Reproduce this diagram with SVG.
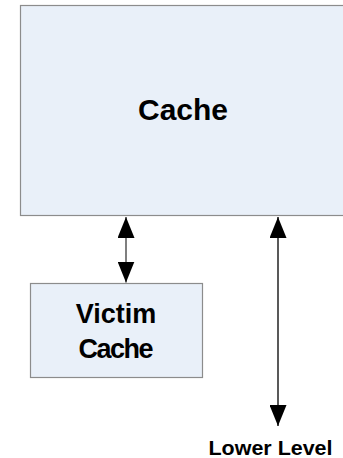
<svg xmlns="http://www.w3.org/2000/svg" width="343" height="458" viewBox="0 0 343 458">
<style>
.box{fill:#e9f0f9;stroke:#8c8c8c;stroke-width:1.2}
.lbl{font-family:"Liberation Sans",Arial,sans-serif;font-weight:bold;fill:#000}
.conn{stroke-width:1.5;fill:none}
</style>
<defs>
<marker id="ah" viewBox="0 0 21 17" refX="21" refY="8.5" markerWidth="21" markerHeight="17" markerUnits="userSpaceOnUse" orient="auto-start-reverse">
<path d="M0,0 L21,8.5 L0,17 Z" fill="#000"/>
</marker>
</defs>
<rect x="0" y="0" width="343" height="458" fill="#fff"/>
<g id="cache">
<rect class="box" x="20.5" y="5.5" width="340" height="210"/>
<text class="lbl" x="183" y="119.5" font-size="30" text-anchor="middle">Cache</text>
</g>
<g id="victim-cache">
<rect class="box" x="30.5" y="283.5" width="172" height="94"/>
<text class="lbl" x="116" y="322.5" font-size="27" text-anchor="middle">Victim</text>
<text class="lbl" x="116" y="357.5" font-size="27" text-anchor="middle" textLength="75" lengthAdjust="spacing">Cache</text>
</g>
<g id="lower-level">
<text class="lbl" x="208.5" y="455" font-size="20.5" textLength="124" lengthAdjust="spacingAndGlyphs">Lower Level</text>
</g>
<g id="connectors">
<line class="conn" x1="126" y1="217" x2="126" y2="282.5" stroke="#555" marker-start="url(#ah)" marker-end="url(#ah)"/>
<line class="conn" x1="278" y1="217" x2="278" y2="426" stroke="#222" marker-start="url(#ah)" marker-end="url(#ah)"/>
</g>
</svg>
